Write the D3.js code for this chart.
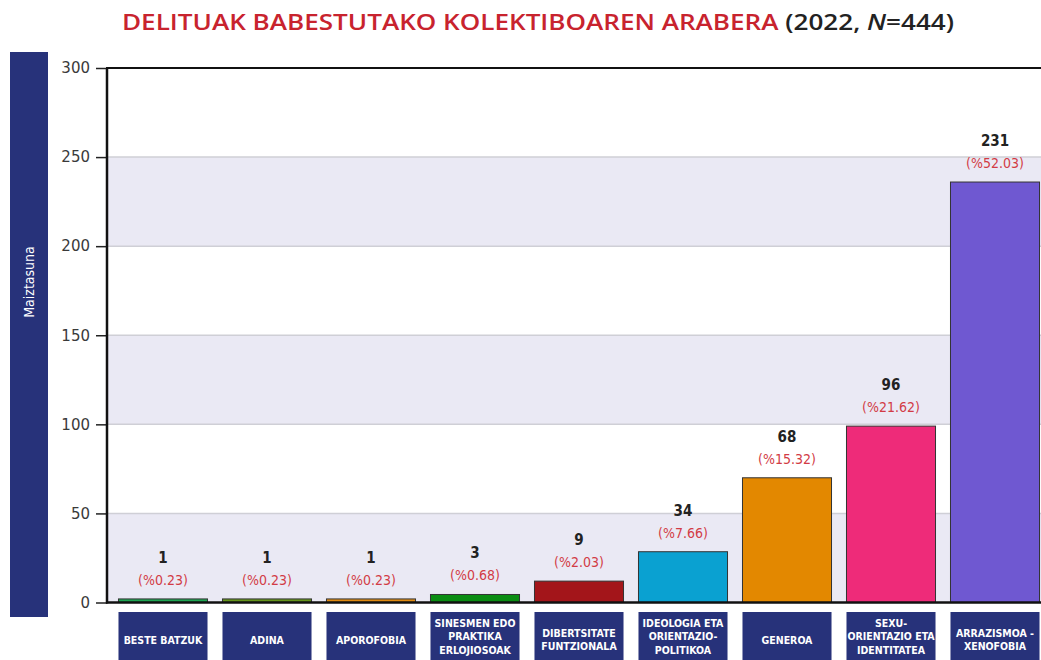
<!DOCTYPE html>
<html>
<head>
<meta charset="utf-8">
<script src="https://cdn.jsdelivr.net/npm/d3@7"></script>
<style>
  body { margin: 0; background: #fff; }
  svg { display: block; }
</style>
</head>
<body>
<div id="chart"></div>
<script>
const width = 1041;
const height = 660;

// categories (lines of the label boxes)
const categories = [
  ["BESTE BATZUK"],
  ["ADINA"],
  ["APOROFOBIA"],
  ["SINESMEN EDO", "PRAKTIKA", "ERLOJIOSOAK"],
  ["DIBERTSITATE", "FUNTZIONALA"],
  ["IDEOLOGIA ETA", "ORIENTAZIO-", "POLITIKOA"],
  ["GENEROA"],
  ["SEXU-", "ORIENTAZIO ETA", "IDENTITATEA"],
  ["ARRAZISMOA -", "XENOFOBIA"]
];
const counts = [1, 1, 1, 3, 9, 34, 68, 96, 231];
const percents = ["0.23", "0.23", "0.23", "0.68", "2.03", "7.66", "15.32", "21.62", "52.03"];
// bar heights as drawn in the picture
const barHeights = [2, 2, 2, 4.5, 12, 28.5, 70, 99, 236];
const barColors = ["#1fa552", "#66951c", "#e08b12", "#0b8d13", "#a3151a", "#0aa1d1", "#e38800", "#ee2b79", "#6f58d1"];
const yTicks = [0, 50, 100, 150, 200, 250, 300];

const condensed = "'DejaVu Sans Condensed', 'Liberation Sans Narrow', sans-serif";

const svg = d3.select("#chart")
  .append("svg")
  .attr("width", width)
  .attr("height", height);

const x = d3.scaleBand()
  .domain(d3.range(categories.length))
  .range([111, 1047])
  .paddingInner(0.144)
  .paddingOuter(0.072);

const y = d3.scaleLinear()
  .domain([0, 300])
  .range([602.5, 68]);

// title
const title = svg.append("text")
  .attr("x", 538)
  .attr("y", 30)
  .attr("text-anchor", "middle")
  .attr("textLength", 832)
  .attr("lengthAdjust", "spacingAndGlyphs")
  .style("font-family", "'Open Sans', sans-serif")
  .style("font-weight", "600")
  .style("font-size", "21px");
title.append("tspan").attr("fill", "#c8232e").text("DELITUAK BABESTUTAKO KOLEKTIBOAREN ARABERA");
title.append("tspan").attr("fill", "#222").text(" (2022, ");
title.append("tspan").attr("fill", "#222").style("font-style", "italic").text("N");
title.append("tspan").attr("fill", "#222").text("=444)");

// alternating background bands
const bands = d3.pairs(yTicks);
svg.selectAll("rect.band")
  .data(bands)
  .enter()
  .append("rect")
  .attr("class", "band")
  .attr("x", 107)
  .attr("y", d => y(d[1]))
  .attr("width", width - 107)
  .attr("height", d => y(d[0]) - y(d[1]))
  .attr("fill", (d, i) => i % 2 === 0 ? "#eae9f4" : "#fff");

// gridlines
svg.selectAll("line.grid")
  .data(yTicks.slice(1, -1))
  .enter()
  .append("line")
  .attr("class", "grid")
  .attr("x1", 107)
  .attr("x2", width)
  .attr("y1", d => y(d))
  .attr("y2", d => y(d))
  .attr("stroke", "#cfcfd6")
  .attr("stroke-width", 1.5);

// y axis title box
svg.append("rect")
  .attr("x", 10)
  .attr("y", 52)
  .attr("width", 38)
  .attr("height", 565)
  .attr("fill", "#27327a");
svg.append("text")
  .attr("transform", "translate(34,282) rotate(-90)")
  .attr("text-anchor", "middle")
  .attr("fill", "#fff")
  .style("font-family", condensed)
  .style("font-size", "14px")
  .text("Maiztasuna");

// y axis
const yAxis = svg.append("g")
  .attr("transform", "translate(107,0)")
  .call(d3.axisLeft(y).tickValues(yTicks).tickSize(11).tickPadding(6));
yAxis.select(".domain").remove();
yAxis.selectAll(".tick line").attr("stroke", "#222").attr("stroke-width", 1.5);
yAxis.selectAll(".tick text")
  .attr("fill", "#3a3a3a")
  .style("font-family", "'DejaVu Sans', sans-serif")
  .style("font-size", "15px");

// bars
svg.selectAll("rect.bar")
  .data(barHeights)
  .enter()
  .append("rect")
  .attr("class", "bar")
  .attr("x", (d, i) => x(i))
  .attr("y", d => y(d))
  .attr("width", x.bandwidth())
  .attr("height", d => y(0) - y(d))
  .attr("fill", (d, i) => barColors[i])
  .attr("stroke", "#333")
  .attr("stroke-width", 1);

// value labels
svg.selectAll("text.count")
  .data(counts)
  .enter()
  .append("text")
  .attr("class", "count")
  .attr("x", (d, i) => x(i) + x.bandwidth() / 2)
  .attr("y", (d, i) => y(barHeights[i]) - 36)
  .attr("text-anchor", "middle")
  .attr("fill", "#222")
  .style("font-family", condensed)
  .style("font-size", "15px")
  .style("font-weight", "bold")
  .text(d => d);

svg.selectAll("text.pct")
  .data(percents)
  .enter()
  .append("text")
  .attr("class", "pct")
  .attr("x", (d, i) => x(i) + x.bandwidth() / 2)
  .attr("y", (d, i) => y(barHeights[i]) - 14)
  .attr("text-anchor", "middle")
  .attr("fill", "#d23b45")
  .style("font-family", condensed)
  .style("font-size", "14px")
  .text(d => `(%${d})`);

// axis frame lines
svg.append("line")
  .attr("x1", 107).attr("x2", 107)
  .attr("y1", y(300)).attr("y2", y(0) + 1)
  .attr("stroke", "#111").attr("stroke-width", 2.5);
svg.append("line")
  .attr("x1", 106).attr("x2", width)
  .attr("y1", y(0)).attr("y2", y(0))
  .attr("stroke", "#111").attr("stroke-width", 2.5);
svg.append("line")
  .attr("x1", 106).attr("x2", width)
  .attr("y1", y(300)).attr("y2", y(300))
  .attr("stroke", "#111").attr("stroke-width", 2);

// category label boxes
const catGroups = svg.selectAll("g.cat")
  .data(categories)
  .enter()
  .append("g")
  .attr("class", "cat")
  .attr("transform", (d, i) => `translate(${x(i)},612)`);

catGroups.append("rect")
  .attr("width", x.bandwidth())
  .attr("height", 60)
  .attr("fill", "#27327a");

catGroups.each(function(lines) {
  const g = d3.select(this);
  const lineH = 13.5;
  const startY = lines.length === 3 ? 11 : 28 - (lines.length - 1) * lineH / 2;
  lines.forEach((line, j) => {
    g.append("text")
      .attr("x", x.bandwidth() / 2)
      .attr("y", startY + j * lineH)
      .attr("dy", "0.35em")
      .attr("text-anchor", "middle")
      .attr("fill", "#fff")
      .style("font-family", condensed)
      .style("font-size", "10.5px")
      .style("font-weight", "bold")
      .text(line);
  });
});
</script>
</body>
</html>
